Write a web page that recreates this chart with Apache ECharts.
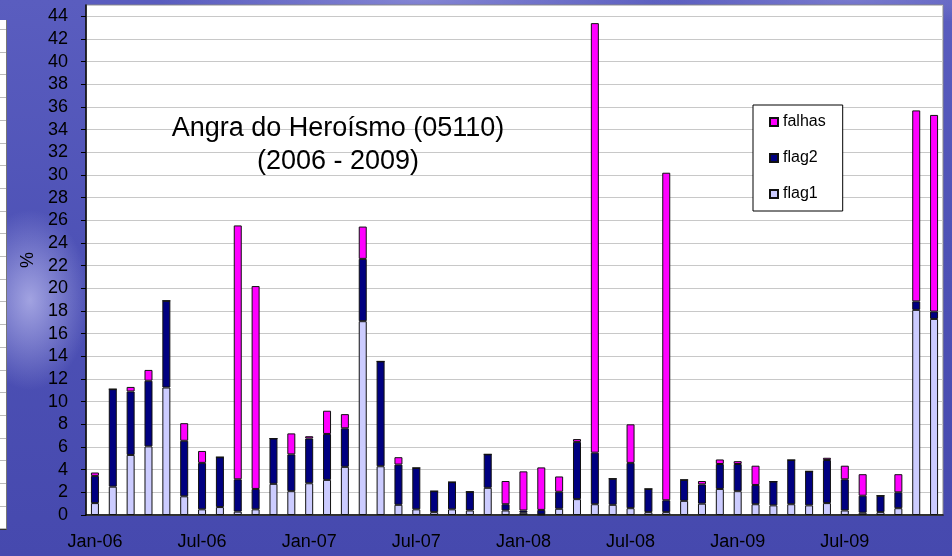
<!DOCTYPE html>
<html>
<head>
<meta charset="utf-8">
<script src="https://cdn.jsdelivr.net/npm/echarts@6/dist/echarts.min.js"></script>
<style>
	html, body {margin: 0; padding: 0;}
	body {
		width: 952px; height: 556px; overflow: hidden; position: relative;
		background:
			radial-gradient(ellipse 60px 90px at 30px 300px, rgba(190,190,240,0.75), rgba(190,190,240,0) 100%),
			radial-gradient(ellipse 260px 30px at 420px 0px, rgba(160,160,225,0.6), rgba(160,160,225,0) 100%),
			radial-gradient(ellipse 200px 25px at 850px 0px, rgba(150,150,220,0.5), rgba(150,150,220,0) 100%),
			linear-gradient(180deg, #5a5dbf 0%, #4e52b6 45%, #4649ae 100%);
	}
	.side {
		position: absolute; left: 0; top: 20px; width: 6px; height: 509px;
		border-right: 1px solid #777; border-bottom: 1px solid #333;
		background: #fff repeating-linear-gradient(180deg, #fff 0px, #fff 9px, #bbb 9px, #bbb 10px, #fff 10px, #fff 22.7px);
	}
	#main {position: absolute; left: 0; top: 0; width: 952px; height: 556px;}
</style>
</head>
<body>
<div class="side"></div>
<div id="main"></div>
<script>
	// months Jan-06 .. Dec-09
	const months = [
		'Jan-06', 'Feb-06', 'Mar-06', 'Apr-06', 'May-06', 'Jun-06', 'Jul-06', 'Aug-06', 'Sep-06', 'Oct-06', 'Nov-06', 'Dec-06',
		'Jan-07', 'Feb-07', 'Mar-07', 'Apr-07', 'May-07', 'Jun-07', 'Jul-07', 'Aug-07', 'Sep-07', 'Oct-07', 'Nov-07', 'Dec-07',
		'Jan-08', 'Feb-08', 'Mar-08', 'Apr-08', 'May-08', 'Jun-08', 'Jul-08', 'Aug-08', 'Sep-08', 'Oct-08', 'Nov-08', 'Dec-08',
		'Jan-09', 'Feb-09', 'Mar-09', 'Apr-09', 'May-09', 'Jun-09', 'Jul-09', 'Aug-09', 'Sep-09', 'Oct-09', 'Nov-09', 'Dec-09'
	];
	const flag1 = [
		1.05, 2.5, 5.3, 6.05, 11.25, 1.65, 0.5, 0.7, 0.3, 0.5, 2.75, 2.1,
		2.8, 3.1, 4.25, 17.1, 4.3, 0.9, 0.5, 0.25, 0.5, 0.4, 2.4, 0.4,
		0.2, 0.05, 0.55, 1.4, 0.95, 0.9, 0.6, 0.25, 0.25, 1.25, 1.0, 2.3,
		2.1, 0.95, 0.85, 0.95, 0.85, 1.05, 0.4, 0.2, 0.25, 0.6, 18.1, 17.3
	];
	const flag2 = [
		2.4, 8.6, 5.6, 5.8, 7.65, 4.9, 4.1, 4.4, 2.85, 1.8, 4.0, 3.25,
		3.95, 4.05, 3.4, 5.5, 9.25, 3.55, 3.65, 1.85, 2.4, 1.65, 2.95, 0.55,
		0.2, 0.4, 1.5, 5.05, 4.55, 2.3, 4.0, 2.05, 1.05, 1.85, 1.7, 2.2,
		2.4, 1.7, 2.1, 3.9, 3.0, 3.8, 2.75, 1.5, 1.45, 1.4, 0.75, 0.65
	];
	const falhas = [
		0.3, 0, 0.4, 0.95, 0, 1.55, 1.05, 0, 22.4, 17.9, 0, 1.85,
		0.2, 2.05, 1.25, 2.85, 0, 0.65, 0, 0, 0, 0, 0, 2.05,
		3.45, 3.75, 1.35, 0.25, 37.9, 0, 3.4, 0, 28.9, 0, 0.3, 0.4,
		0.25, 1.7, 0, 0, 0, 0.2, 1.2, 1.9, 0, 1.6, 16.85, 17.35
	];
	const seriesNames = ['flag1', 'flag2', 'falhas'];
	const seriesColors = ['#ccccff', '#000080', '#ff00ff'];

	const font = '"Liberation Sans", Arial, sans-serif';
	const bar = (name, data, color) => ({
		name, type: 'bar', stack: 'total', data,
		barWidth: 8,
		itemStyle: {color, borderColor: '#111', borderWidth: 1},
		emphasis: {disabled: true}
	});

	const myChart = echarts.init(document.getElementById('main'));
	myChart.setOption({
		animation: false,
		textStyle: {fontFamily: font, color: '#000'},
		title: {
			text: 'Angra do Heroísmo (05110)\n(2006 - 2009)',
			left: 338, top: 112, padding: 0,
			textAlign: 'center',
			textStyle: {fontSize: 27, fontWeight: 'normal', lineHeight: 33, color: '#000', fontFamily: font}
		},
		legend: {
			data: ['falhas', 'flag2', 'flag1'],
			orient: 'vertical',
			left: 753, top: 105,
			padding: [9, 17, 9, 16],
			itemGap: 20,
			itemWidth: 8, itemHeight: 8,
			icon: 'rect',
			backgroundColor: '#fff',
			borderColor: '#000', borderWidth: 1,
			textStyle: {fontSize: 16, color: '#000', fontFamily: font}
		},
		grid: {
			left: 86, right: 9, top: 5, bottom: 41,
			show: true, backgroundColor: '#fff', borderColor: '#888', borderWidth: 1
		},
		xAxis: {
			type: 'category',
			data: months,
			axisLine: {lineStyle: {color: '#000', width: 1.5}},
			axisTick: {interval: 5, length: 5, lineStyle: {color: '#000'}},
			axisLabel: {interval: 5, margin: 18, fontSize: 18, color: '#000', fontFamily: font}
		},
		yAxis: {
			type: 'value',
			min: 0, max: 45, interval: 2,
			name: '%', nameLocation: 'middle', nameRotate: 90, nameGap: 48,
			nameTextStyle: {fontSize: 18, color: '#000', fontFamily: font},
			axisLine: {show: true, lineStyle: {color: '#000', width: 1.5}},
			axisTick: {show: true, length: 5, lineStyle: {color: '#000'}},
			axisLabel: {margin: 18, fontSize: 18, color: '#000', fontFamily: font, showMaxLabel: false},
			splitLine: {lineStyle: {color: '#c8c8c8', width: 1.2}}
		},
		series: seriesNames.map((n, i) => bar(n, [flag1, flag2, falhas][i], seriesColors[i]))
	});
</script>
</body>
</html>
